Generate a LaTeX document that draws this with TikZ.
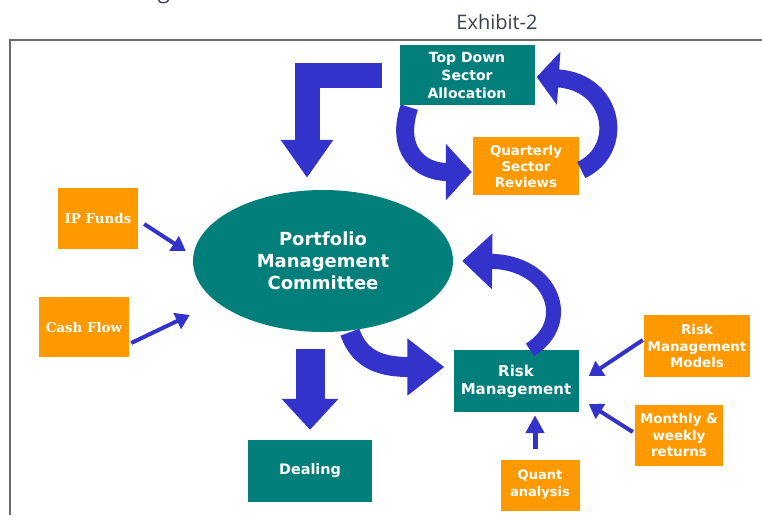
\documentclass[tikz,border=0pt]{standalone}
\usepackage{fontspec}
\setmainfont{DejaVu Sans}
\newfontfamily\boxserif{DejaVu Serif}
\newfontfamily\headfont{Open Sans}
\usetikzlibrary{calc, arrows.meta, shapes.geometric}
\definecolor{boxteal}{HTML}{037F7B}
\definecolor{boxorange}{HTML}{FF9900}
\definecolor{flowblue}{HTML}{3333CC}
\definecolor{framegray}{HTML}{6B6B6B}
\definecolor{headgray}{HTML}{3A4050}
\tikzset{
    tealbox/.style={fill=boxteal, text=white, align=center, inner sep=0pt,
        font=\bfseries\fontsize{14}{18}\selectfont},
    orangebox/.style={fill=boxorange, text=white, align=center, inner sep=0pt,
        font=\bfseries\fontsize{13.4}{16.5}\selectfont},% small input boxes
    thinarrow/.style={draw=flowblue, line width=4pt, -{Triangle[length=14pt,width=17pt]}},
    blockarrow/.style={draw=flowblue, line join=miter, -{Triangle[length=32pt,width=54pt]}},
}

\begin{document}
\begin{tikzpicture}[x=1pt, y=-1pt]
    \useasboundingbox (0,0) rectangle (762,515);
    % heading and frame
    \node[font=\headfont\fontsize{22}{24}\selectfont, text=headgray, anchor=base] (heading) at (164,-2) {g};
    \node[font=\headfont\fontsize{20}{22}\selectfont, text=headgray] (exhibit) at (497,22) {Exhibit-2};
    \draw[framegray, line width=1.5pt] (10,515) -- (10,40) -- (762,40);

    % boxes
    \node[ellipse, fill=boxteal, text=white, minimum width=260pt, minimum height=142pt, inner sep=0pt, align=center,
        font=\bfseries\fontsize{18}{22}\selectfont] (pmc) at (323,261) {Portfolio\\Management\\Committee};
    \node[tealbox, minimum width=135pt, minimum height=60pt] (topdown) at (467,75) {Top Down\\Sector\\Allocation};
    \node[orangebox, minimum width=106pt, minimum height=58pt, font=\bfseries\fontsize{13.4}{16}\selectfont]
        (qsr) at (526,166) {Quarterly\\Sector\\Reviews};
    \node[orangebox, minimum width=80pt, minimum height=61pt, font=\boxserif\bfseries\fontsize{13.4}{16}\selectfont]
        (ipf) at (98,218) {IP Funds};
    \node[orangebox, minimum width=90pt, minimum height=60pt, font=\boxserif\bfseries\fontsize{13.4}{16}\selectfont]
        (cash) at (84,327) {Cash Flow};
    \node[tealbox, minimum width=125pt, minimum height=62pt, font=\bfseries\fontsize{15}{18}\selectfont]
        (risk) at (516,381) {Risk\\Management};
    \node[tealbox, minimum width=124pt, minimum height=62pt, font=\bfseries\fontsize{14.4}{18}\selectfont]
        (dealing) at (310,471) {Dealing};
    \node[orangebox, minimum width=106pt, minimum height=62pt] (rmm) at (697,346) {Risk\\Management\\Models};
    \node[orangebox, minimum width=88pt, minimum height=61pt] (mwr) at (679,435) {Monthly \&\\weekly\\returns};
    \node[orangebox, minimum width=79pt, minimum height=51pt, font=\bfseries\fontsize{13}{17}\selectfont]
        (quant) at (540,485) {Quant\\analysis};

    % block arrows
    \draw[blockarrow, line width=25pt, -{Triangle[length=38pt,width=50pt]}]
        ($(topdown.west)+(-17,0)$) -| ($(pmc.north)+(-16,-12)$);
    \draw[blockarrow, line width=29pt, -{Triangle[length=31pt,width=55pt]}]
        ($(pmc.south)+(-13,17)$) -- ($(dealing.north)+(0,-10)$);
    \draw[blockarrow, line width=20pt, -{Triangle[length=37pt,width=55pt]}]
        ($(pmc.south)+(27,0)$) .. controls (360,362) and (385,367) .. ($(risk.west)+(-9,-14)$);
    \draw[blockarrow, line width=15pt, -{Triangle[length=30pt,width=54pt]}]
        ($(risk.north)+(14,0)$) .. controls (575,322) and (552,262) .. ($(pmc.east)+(9,0)$);
    \draw[blockarrow, line width=18pt, -{Triangle[length=26pt,width=55pt]}]
        ($(topdown.south west)+(10,2)$) .. controls (395,150) and (420,172) .. ($(qsr.west)+(-1,6)$);
    \draw[blockarrow, line width=18pt, -{Triangle[length=22pt,width=52pt]}]
        ($(qsr.east)+(2,4)$) .. controls (625,150) and (615,82) .. ($(topdown.east)+(2,2)$);

    % thin arrows
    \draw[thinarrow] ($(ipf.east)+(6,6)$) -- ($(pmc.west)+(-7,-10)$);
    \draw[thinarrow] ($(cash.east)+(2,16)$) -- ($(pmc.west)+(-3,54)$);
    \draw[thinarrow] ($(rmm.west)+(-1,-6)$) -- ($(risk.east)+(10,-5)$);
    \draw[thinarrow] ($(mwr.west)+(-2,-3)$) -- ($(risk.east)+(10,23)$);
    \draw[thinarrow, line width=5pt, -{Triangle[length=18pt,width=18pt]}]
        ($(quant.north)+(-5,-10)$) -- ($(risk.south)+(19,3)$);
\end{tikzpicture}
\end{document}
